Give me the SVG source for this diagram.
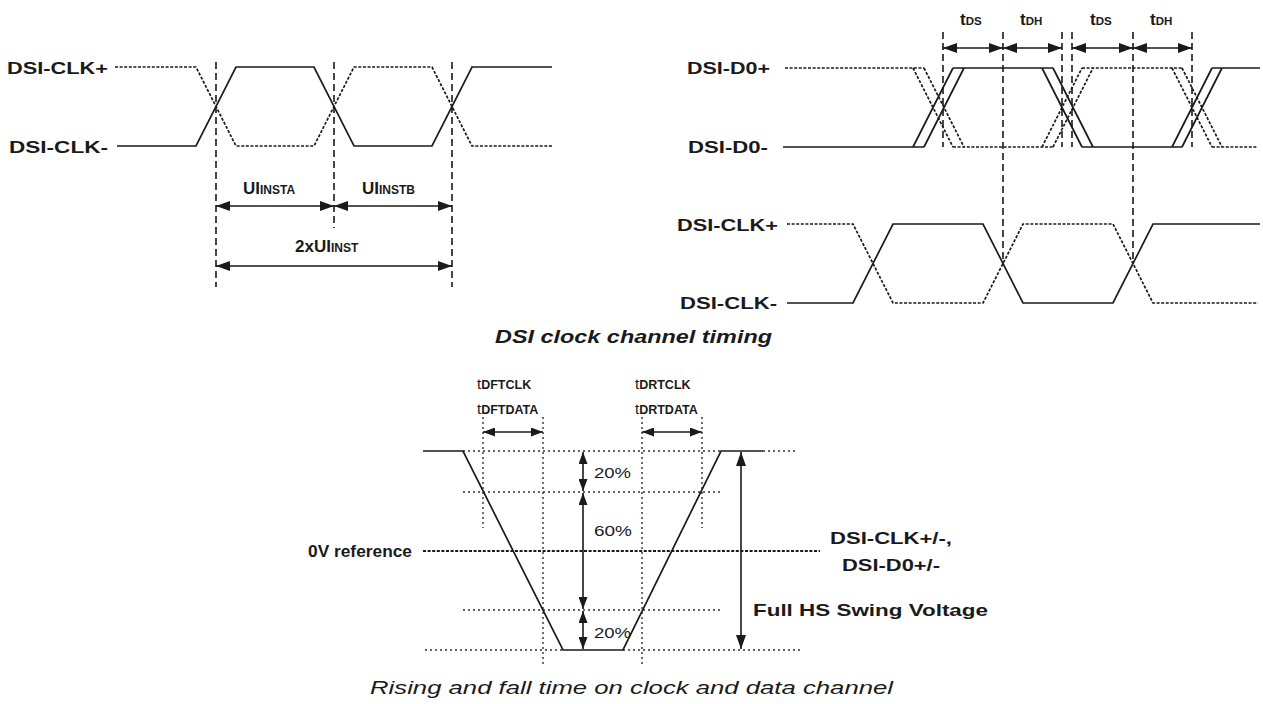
<svg xmlns="http://www.w3.org/2000/svg" width="1263" height="704" viewBox="0 0 1263 704">
<style>
.lbl{font-family:"Liberation Sans",Arial,sans-serif;font-weight:bold;font-size:17px;fill:#1a1a1a}
.reg{font-family:"Liberation Sans",Arial,sans-serif;font-size:15px;fill:#1a1a1a}
.cap{font-family:"Liberation Sans",Arial,sans-serif;font-style:italic;font-size:18px;fill:#1a1a1a}
.sig{fill:none;stroke:#1a1a1a;stroke-width:1.7}
.dot{stroke-dasharray:3 1.6}
.vd{fill:none;stroke:#1a1a1a;stroke-width:1.6;stroke-dasharray:7 4}
.arr{fill:none;stroke:#1a1a1a;stroke-width:1.6;marker-start:url(#ah);marker-end:url(#ah)}
.arrs{fill:none;stroke:#1a1a1a;stroke-width:1.6;marker-start:url(#ahs);marker-end:url(#ahs)}
.fine{fill:none;stroke:#333;stroke-width:1.4;stroke-dasharray:2 3}
.ref{fill:none;stroke:#1a1a1a;stroke-width:2;stroke-dasharray:3 1.6}
</style>
<defs>
<marker id="ah" viewBox="0 0 14 10" refX="14" refY="5" markerWidth="14" markerHeight="10" markerUnits="userSpaceOnUse" orient="auto-start-reverse"><path d="M0,0 L14,5 L0,10 z" fill="#1a1a1a"/></marker>
<marker id="ahs" viewBox="0 0 12 9" refX="12" refY="4.5" markerWidth="12" markerHeight="9" markerUnits="userSpaceOnUse" orient="auto-start-reverse"><path d="M0,0 L12,4.5 L0,9 z" fill="#1a1a1a"/></marker>
</defs>

<!-- Top-left: clock UI timing -->
<g id="clk-ui">
<text class="lbl" x="7" y="74" textLength="101" lengthAdjust="spacingAndGlyphs">DSI-CLK+</text>
<text class="lbl" x="9" y="153" textLength="99" lengthAdjust="spacingAndGlyphs">DSI-CLK-</text>
<path class="sig" d="M117,146 H196 L236,67 H314 L354,146 H432 L472,67 H552"/>
<path class="sig dot" d="M115,67 H196 L236,146 H314 L354,67 H432 L472,146 H552"/>
</g>
<g id="clk-ui-dims">
<path class="vd" d="M216,62 V287 M334,62 V228 M452,62 V287"/>
<path class="arr" d="M216,206 H334"/>
<path class="arr" d="M334,206 H452"/>
<path class="arr" d="M216,266 H452"/>
<text class="lbl" x="243" y="194" font-size="18">UI<tspan font-size="12">INSTA</tspan></text>
<text class="lbl" x="362" y="194" font-size="18">UI<tspan font-size="12">INSTB</tspan></text>
<text class="lbl" x="295" y="252" font-size="18">2xUI<tspan font-size="12">INST</tspan></text>
</g>

<!-- Top-right: data vs clock -->
<g id="data">
<text class="lbl" x="687" y="74" textLength="83" lengthAdjust="spacingAndGlyphs">DSI-D0+</text>
<text class="lbl" x="688" y="153" textLength="80" lengthAdjust="spacingAndGlyphs">DSI-D0-</text>
<path class="sig dot" d="M785,68 H924 M913,68 L953,147 M924,68 L964,147 M953,147 H1053 M1042,147 L1082,68 M1053,147 L1093,68 M1082,68 H1182 M1172,68 L1212,147 M1182,68 L1222,147 M1212,147 H1258"/>
<path class="sig" d="M783,147 H924 M913,147 L953,68 M924,147 L964,68 M953,68 H1053 M1042,68 L1082,147 M1053,68 L1093,147 M1082,147 H1182 M1172,147 L1212,68 M1182,147 L1222,68 M1212,68 H1260"/>
</g>
<g id="clk2">
<text class="lbl" x="677" y="231" textLength="101" lengthAdjust="spacingAndGlyphs">DSI-CLK+</text>
<text class="lbl" x="680" y="309" textLength="97" lengthAdjust="spacingAndGlyphs">DSI-CLK-</text>
<path class="sig dot" d="M787,224 H853 L893,303 H983 L1023,224 H1113 L1153,303 H1258"/>
<path class="sig" d="M787,303 H853 L893,224 H983 L1023,303 H1113 L1153,224 H1260"/>
</g>
<g id="setup-hold">
<path class="vd" d="M943,32 V147 M1003,32 V264 M1062,32 V147 M1072,32 V147 M1133,32 V264 M1192,32 V147"/>
<path class="arr" d="M943,48 H1003"/>
<path class="arr" d="M1003,48 H1062"/>
<path class="arr" d="M1072,48 H1133"/>
<path class="arr" d="M1133,48 H1192"/>
<text class="lbl" font-weight="normal" x="960" y="25" font-size="18">t<tspan font-weight="bold" font-size="11.5">DS</tspan></text>
<text class="lbl" font-weight="normal" x="1020" y="25" font-size="18">t<tspan font-weight="bold" font-size="11.5">DH</tspan></text>
<text class="lbl" font-weight="normal" x="1090" y="25" font-size="18">t<tspan font-weight="bold" font-size="11.5">DS</tspan></text>
<text class="lbl" font-weight="normal" x="1150" y="25" font-size="18">t<tspan font-weight="bold" font-size="11.5">DH</tspan></text>
</g>
<text class="cap" font-weight="bold" x="495" y="343" textLength="277" lengthAdjust="spacingAndGlyphs">DSI clock channel timing</text>

<!-- Bottom: rise/fall -->
<g id="rise-fall-grid">
<path class="fine" d="M463,451 H721 M763,451 H798 M463,492 H720 M463,610 H720 M425,650 H563 M623,650 H800"/>
<path class="fine" d="M483,417 V528 M543,417 V666 M642,417 V666 M702,417 V528"/>
<path class="ref" d="M423,551 H820"/>
</g>
<g id="rise-fall-wave">
<path class="sig" d="M423,451 H463 L563,650 H623 L721,451 H763"/>
</g>
<g id="rise-fall-dims">
<path class="arrs" d="M483,432 H543"/>
<path class="arrs" d="M642,432 H702"/>
<path class="arrs" d="M583,452 V491"/>
<path class="arrs" d="M583,493 V609"/>
<path class="arrs" d="M583,611 V649"/>
<path class="arr" d="M741,452 V649"/>
<text class="reg" x="477" y="389" font-size="17">t<tspan font-size="12.5" font-weight="bold">DFTCLK</tspan></text>
<text class="reg" x="477" y="414" font-size="17">t<tspan font-size="12.5" font-weight="bold">DFTDATA</tspan></text>
<text class="reg" x="635" y="389" font-size="17">t<tspan font-size="12.5" font-weight="bold">DRTCLK</tspan></text>
<text class="reg" x="635" y="414" font-size="17">t<tspan font-size="12.5" font-weight="bold">DRTDATA</tspan></text>
<text class="reg" x="594" y="478" textLength="37" lengthAdjust="spacingAndGlyphs">20%</text>
<text class="reg" x="594" y="536" textLength="38" lengthAdjust="spacingAndGlyphs">60%</text>
<text class="reg" x="594" y="638" textLength="37" lengthAdjust="spacingAndGlyphs">20%</text>
<text class="lbl" font-size="16" x="308" y="557" textLength="104" lengthAdjust="spacingAndGlyphs">0V reference</text>
<text class="lbl" font-size="16" x="830" y="544" textLength="122" lengthAdjust="spacingAndGlyphs">DSI-CLK+/-,</text>
<text class="lbl" font-size="16" x="842" y="571" textLength="98" lengthAdjust="spacingAndGlyphs">DSI-D0+/-</text>
<text class="lbl" font-size="16" x="753" y="616" textLength="235" lengthAdjust="spacingAndGlyphs">Full HS Swing Voltage</text>
</g>
<text class="cap" x="370" y="694" textLength="523" lengthAdjust="spacingAndGlyphs">Rising and fall time on clock and data channel</text>
</svg>
